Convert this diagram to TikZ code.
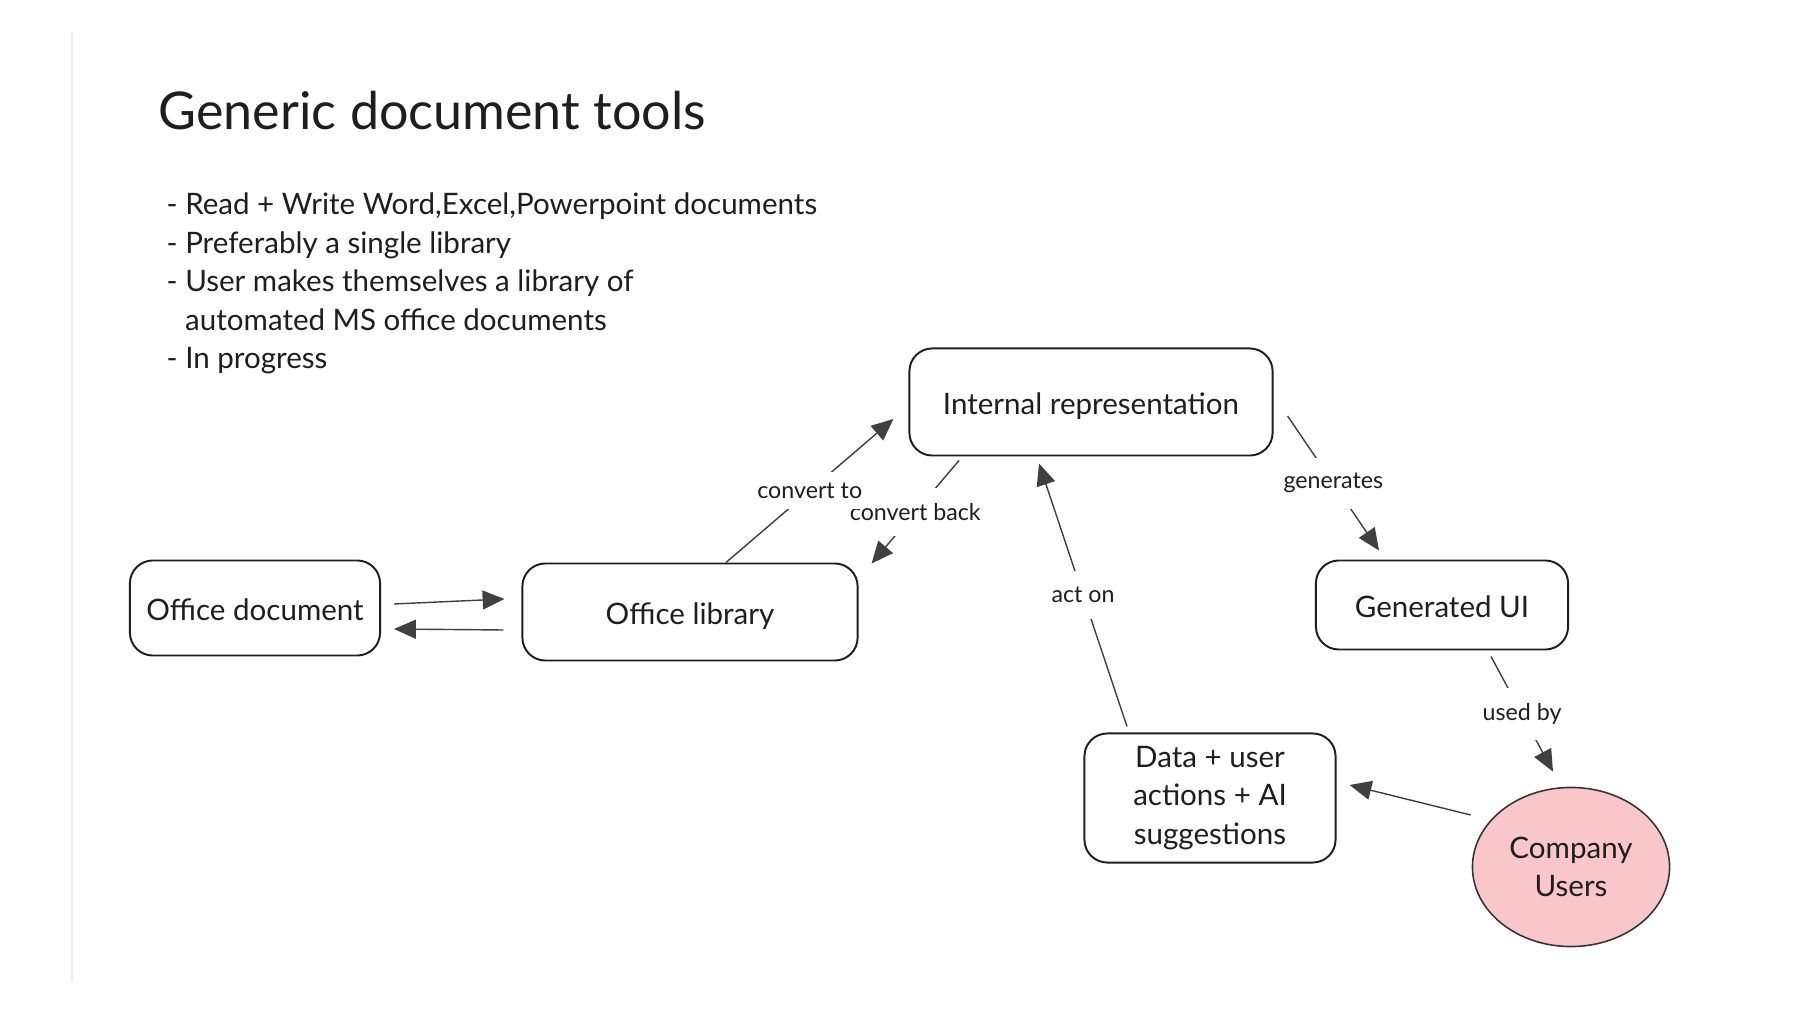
\documentclass[tikz,border=0pt]{standalone}
\usepackage{fontspec}
\setmainfont{Lato}
\usetikzlibrary{arrows.meta,shapes.geometric,calc}
\definecolor{ink}{HTML}{1E1E1E}
\definecolor{pinkfill}{HTML}{F9C7CA}
\tikzset{
  box/.style={draw=ink, line width=0.55pt, rounded corners=6.5pt, align=center, text=ink,
    font=\fontsize{8.4}{11}\selectfont, inner sep=0pt},
  oneline/.style={text height=0.72em, text depth=0pt},
  arr/.style={draw=ink!85, line width=0.4pt, -{Triangle[length=6.2pt,width=5.4pt]}},
  lbl/.style={fill=white, text=ink, font=\fontsize{6.6}{8}\selectfont, inner xsep=1.5pt, inner ysep=4.5pt},
  bullet/.style={anchor=base west, text=ink, font=\fontsize{8.4}{11}\selectfont, inner sep=0pt},
}
\begin{document}
\begin{tikzpicture}[x=0.01cm,y=-0.01cm]
\useasboundingbox[fill=white] (0,0) rectangle (1800,1013);
\draw[black!6, line width=0.4pt] (72,32) -- (72,982);

\node[anchor=base west, text=ink, font=\fontsize{14.8}{18}\selectfont, inner sep=0pt] (title) at (158,130) {Generic document tools};
\node[bullet] (b1) at (166,215) {- Read + Write Word,Excel,Powerpoint documents};
\node[bullet] (b2) at (166,253.5) {- Preferably a single library};
\node[bullet] (b3) at (166,292) {- User makes themselves a library of};
\node[bullet] (b4) at (166,330.5) {\phantom{- }automated MS office documents};
\node[bullet] (b5) at (166,369) {- In progress};

\node[box, oneline, minimum width=2.5cm, minimum height=0.95cm] (doc) at (255,608) {Office document};
\node[box, oneline, minimum width=3.35cm, minimum height=0.97cm] (lib) at (690,612) {Office library};
\node[box, oneline, minimum width=3.63cm, minimum height=1.07cm] (intrep) at (1091,402) {Internal representation};
\node[box, oneline, minimum width=2.52cm, minimum height=0.89cm] (gui) at (1442,605) {Generated UI};
\node[box, minimum width=2.51cm, minimum height=1.29cm] (data) at (1210,798) {\raisebox{-3pt}[0pt][0pt]{}Data + user\\actions + AI\\suggestions};
\node[ellipse, draw=ink!90, line width=0.45pt, fill=pinkfill, minimum width=1.97cm, minimum height=1.59cm,
  align=center, text=ink, font=\fontsize{8.4}{11}\selectfont, inner sep=0pt] (users) at (1571,867) {Company\\Users};

\draw[arr] ($(doc.east)+(13,-4)$) -- ($(lib.west)+(-17,-13)$);
\draw[arr] ($(lib.west)+(-18,18)$) -- ($(doc.east)+(13,21)$);
\draw[arr] ($(intrep.south)+(-132,4)$) -- node[lbl] (lback) {convert back} ($(lib.north east)+(13,1)$);
\draw[arr] ($(lib.north)+(36,0)$) -- node[lbl, inner ysep=3pt, inner xsep=0.5pt] (lconv) {convert to} ($(intrep.west)+(-15,17)$);
\draw[arr] ($(data.north)+(-83,-6)$) -- node[lbl] (lact) {act on} ($(intrep.south)+(-52,7)$);
\draw[arr] ($(intrep.east)+(14,14)$) -- node[lbl] (lgen) {generates} ($(gui.north)+(-63,-9)$);
\draw[arr] ($(gui.south)+(49,6)$) -- node[lbl] (lused) {used by} ($(users.north)+(-18,-15)$);
\draw[arr] ($(users.west)+(-1,-52)$) -- ($(data.east)+(13,-13)$);
\end{tikzpicture}
\end{document}
